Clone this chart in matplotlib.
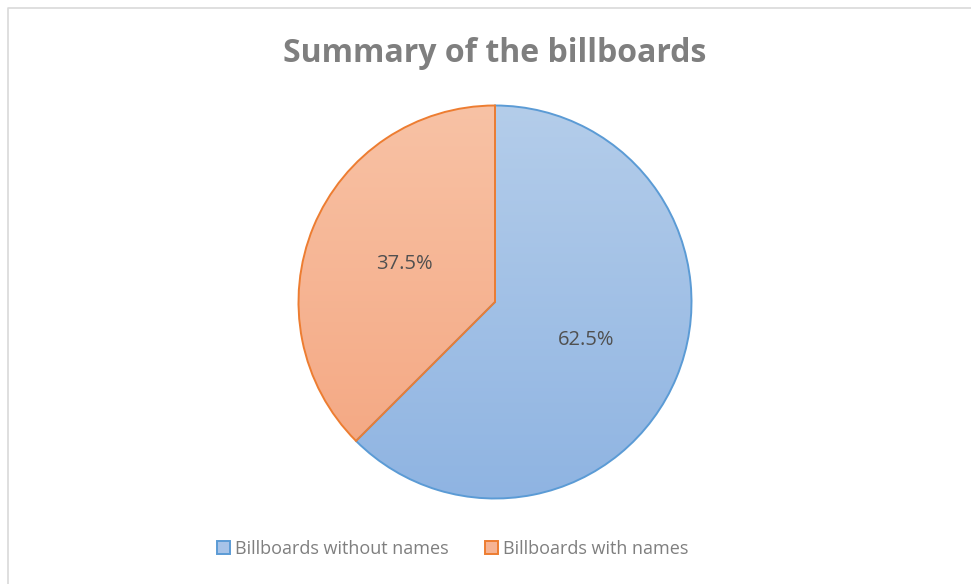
import matplotlib.pyplot as plt
import numpy as np
from matplotlib.lines import Line2D
from matplotlib.patches import Patch

# slice data
labels = ["Billboards without names", "Billboards with names"]
shares = [62.5, 37.5]
edge_colors = ["#5b9bd5", "#ed7d31"]
top_colors = ["#b4cdea", "#f8c2a5"]
bottom_colors = ["#8fb4e2", "#f4a57f"]

W, H = 971, 584
fig = plt.figure(figsize=(W / 100, H / 100), dpi=100)
fig.patch.set_facecolor("white")

# chart frame (left and top edges show, the rest runs off the page)
fig.add_artist(Line2D([7.5 / W, 7.5 / W, 1.0], [0.0, 1 - 7.5 / H, 1 - 7.5 / H],
                      transform=fig.transFigure, color="#d9d9d9", lw=1.2))

cx, cy, r = 495, 302, 196.5
ax = fig.add_axes([(cx - r) / W, (H - cy - r) / H, 2 * r / W, 2 * r / H])

wedges, txts = ax.pie(shares, startangle=90, counterclock=False, radius=1,
                      colors=["none", "none"],
                      wedgeprops=dict(linewidth=1.4, zorder=3),
                      labels=[f"{s:.1f}%" for s in shares], labeldistance=0.5,
                      textprops=dict(color="#505050", fontsize=14.5, family="Open Sans"))
for w, ec in zip(wedges, edge_colors):
    w.set_edgecolor(ec)
for t in txts:
    t.set_ha("center")
    t.set_va("center")

# vertical gradient inside each slice
for w, c0, c1 in zip(wedges, top_colors, bottom_colors):
    a = np.array(plt.matplotlib.colors.to_rgb(c0))
    b = np.array(plt.matplotlib.colors.to_rgb(c1))
    t = np.linspace(0, 1, 256)[:, None]
    grad = (a * (1 - t) + b * t)[:, None, :]
    im = ax.imshow(grad, extent=[-1, 1, -1, 1], aspect="auto", zorder=2,
                   interpolation="bilinear")
    im.set_clip_path(w)

ax.set_xlim(-1, 1)
ax.set_ylim(-1, 1)
ax.axis("off")

fig.text(cx / W, 1 - 53 / H, "Summary of the billboards", ha="center", va="center",
         fontsize=23, fontweight="bold", color="#7f7f7f", family="Open Sans")

handles = [Patch(facecolor=(tc), edgecolor=ec, linewidth=1.4)
           for tc, ec in zip(["#a7c3e8", "#f6b393"], edge_colors)]
fig.legend(handles, labels, loc="center", bbox_to_anchor=(453 / W, 1 - 549 / H),
           ncol=2, frameon=False, handlelength=0.7, handleheight=0.7,
           handletextpad=0.3, columnspacing=2.0, labelcolor="#7f7f7f",
           prop=dict(family="Open Sans", size=13))

fig.savefig("out.png", dpi=100)
